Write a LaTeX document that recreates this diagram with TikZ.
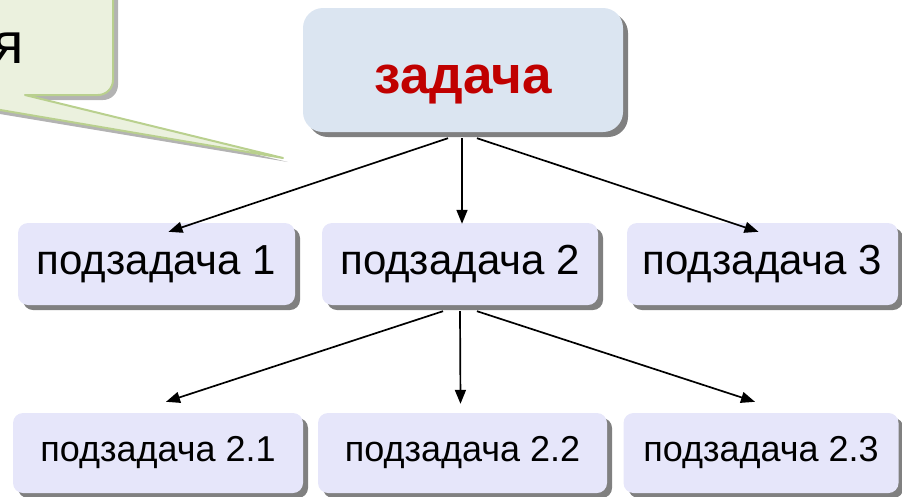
\documentclass[tikz,border=0pt]{standalone}
\usepackage{fontspec}
\setmainfont{Liberation Sans}
\usetikzlibrary{arrows.meta,shadows,calc}
\definecolor{mainfill}{HTML}{DBE5F1}
\definecolor{subfill}{HTML}{E6E6FA}
\definecolor{shadowgray}{HTML}{808080}
\definecolor{callfill}{HTML}{EBF1DE}
\definecolor{callborder}{HTML}{B9D08E}
\definecolor{taskred}{HTML}{C00000}
\begin{document}
\begin{tikzpicture}[x=1pt,y=-1pt,
  pshadow/.style={general shadow={fill=shadowgray, shadow xshift=5pt, shadow yshift=-5pt}},
  mainbox/.style={rectangle, rounded corners=20pt, fill=mainfill, inner sep=0pt, pshadow,
    minimum width=320pt, minimum height=124pt, text=taskred,
    text height=49pt, text depth=3pt,
    font=\fontsize{53}{58}\selectfont\bfseries},
  subbox/.style={rectangle, rounded corners=10pt, fill=subfill, inner sep=0pt, pshadow,
    minimum height=82pt, font=\fontsize{42}{46}\selectfont},
  leafbox/.style={rectangle, rounded corners=10pt, fill=subfill, inner sep=0pt, pshadow,
    minimum height=80pt, font=\fontsize{36}{40}\selectfont},
  conn/.style={line width=1.7pt, -{Triangle[length=14pt,width=11pt]}},
  callshape/.style={fill=callfill, draw=callborder, line width=2pt, line join=round}
]
\useasboundingbox (0,0) rectangle (902,496);
\begin{scope}
\clip (0,0) rectangle (902,496);
% callout shadow
\fill[shadowgray, opacity=0.6] (-300,-60) -- (-300,100) -- (-84,100) -- (288,162) -- (30,100)
  [rounded corners=15pt] -- (118,100) -- (118,-60) [sharp corners] -- cycle;
% callout
\path[callshape] (-300,-60) -- (-300,95) -- (-88,95) -- (283,158) -- (25,95)
  [rounded corners=15pt] -- (113,95) -- (113,-60) [sharp corners] -- cycle;
\node[anchor=base east, inner sep=0pt, font=\fontsize{58}{62}\selectfont] (ya) at (24,63) {я};
\end{scope}

\node[mainbox] (main) at (463,70) {задача};

\node[subbox, minimum width=277pt] (s1) at (156.5,264) {подзадача 1};
\node[subbox, minimum width=276pt] (s2) at (460,264) {подзадача 2};
\node[subbox, minimum width=271pt] (s3) at (762.5,264) {подзадача 3};

\node[leafbox, minimum width=290pt] (l1) at (158,453) {подзадача 2.1};
\node[leafbox, minimum width=289pt] (l2) at (462.5,453) {подзадача 2.2};
\node[leafbox, minimum width=275pt] (l3) at (761,453) {подзадача 2.3};

\draw[conn] ($(main.south)+(-15,6)$) -- ($(s1.north)+(12,9)$);
\draw[conn] ($(main.south)+(-1,6)$) -- ($(s2.north)+(2,1)$);
\draw[conn] ($(main.south)+(14,6)$) -- ($(s3.north)+(-4,9)$);

\draw[conn] ($(s2.south)+(-17,6)$) -- ($(l1.north)+(8,-11)$);
\draw[conn] ($(s2.south)+(0,6)$) -- ($(l2.north)+(-2,-9)$);
\draw[conn] ($(s2.south)+(17,6)$) -- ($(l3.north)+(-6,-11)$);
\end{tikzpicture}
\end{document}
